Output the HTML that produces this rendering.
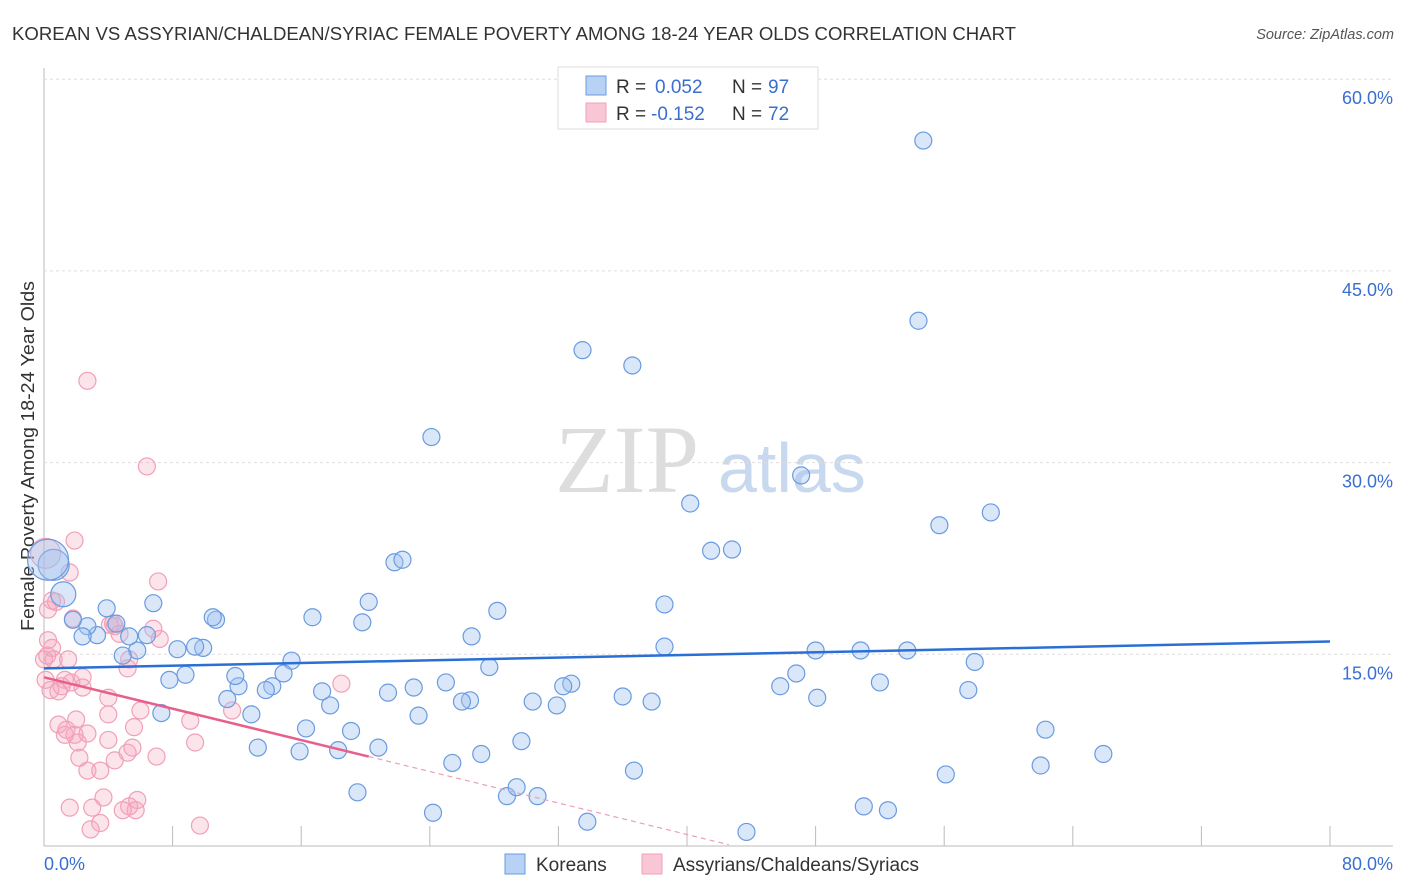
<!DOCTYPE html>
<html><head><meta charset="utf-8"><style>
body{margin:0;background:#fff;font-family:"Liberation Sans",sans-serif;}
svg{display:block}
</style></head><body>
<svg id="chart" width="1406" height="892">
<text x="12" y="40" font-size="18" fill="#333" textLength="1004" lengthAdjust="spacingAndGlyphs">KOREAN VS ASSYRIAN/CHALDEAN/SYRIAC FEMALE POVERTY AMONG 18-24 YEAR OLDS CORRELATION CHART</text>
<text x="1394" y="39" font-size="14.5" fill="#555" font-style="italic" text-anchor="end">Source: ZipAtlas.com</text>
<text x="0" y="0" font-size="18" fill="#333" textLength="350" lengthAdjust="spacingAndGlyphs" transform="translate(34 631) rotate(-90)">Female Poverty Among 18-24 Year Olds</text>
<g><text x="555" y="492" font-size="96" font-family="Liberation Serif,serif" fill="#ddd">ZIP</text><text x="718" y="492" font-size="70" fill="#c8d8ee">atlas</text></g>
<g id="grid"></g><g id="marks"></g><g id="trend"></g>
<g>
<rect x="558" y="67" width="260" height="62" fill="#fff" stroke="#ddd"/>
<rect x="586" y="76" width="20" height="19" fill="#b8d2f5" stroke="#6a9be0"/>
<rect x="586" y="103" width="20" height="19" fill="#f9c6d6" stroke="#f0a0b8"/>
<text x="616" y="93" font-size="19" fill="#333">R =</text><text x="655" y="93" font-size="19" fill="#3a6fd0">0.052</text><text x="732" y="93" font-size="19" fill="#333">N =</text><text x="768" y="93" font-size="19" fill="#3a6fd0">97</text>
<text x="616" y="120" font-size="19" fill="#333">R =</text><text x="651" y="120" font-size="19" fill="#3a6fd0">-0.152</text><text x="732" y="120" font-size="19" fill="#333">N =</text><text x="768" y="120" font-size="19" fill="#3a6fd0">72</text>
</g>
<g>
<rect x="505" y="854" width="20" height="20" fill="#b8d2f5" stroke="#6a9be0"/>
<text x="536" y="871" font-size="19" fill="#333">Koreans</text>
<rect x="642" y="854" width="20" height="20" fill="#f9c6d6" stroke="#f0a0b8"/>
<text x="673" y="871" font-size="19" fill="#333">Assyrians/Chaldeans/Syriacs</text>
</g>
</svg>
<script>
const blueX=[54.7,54.4,33.5,36.6,24.1,47.1,40.2,55.7,58.9,41.5,42.8,21.8,22.3,38.6,28.2,20.2,16.7,19.8,26.6,38.6,48.0,50.8,53.7,57.9,46.8,52.0,45.8,57.5,48.1,62.3,65.9,62.0,56.1,51.0,52.5,43.7,36.0,37.8,32.8,32.3,30.4,31.9,27.7,26.5,26.0,25.0,23.3,23.0,21.4,20.8,19.1,18.3,19.5,17.8,17.3,16.3,15.9,15.4,14.9,14.2,13.8,13.3,12.9,12.1,11.9,11.4,9.9,9.4,8.8,8.3,7.8,7.3,6.8,6.4,5.8,5.3,4.9,4.5,3.9,3.3,2.7,2.4,1.8,10.7,10.5,24.2,28.8,29.4,30.7,33.8,36.7,25.4,27.2,29.7,1.2,0.6,0.25];
const blueY=[55.2,41.1,38.8,37.6,32.0,29.0,26.8,25.1,26.1,23.1,23.2,22.2,22.4,18.9,18.4,19.1,17.9,17.5,16.4,15.6,15.3,15.3,15.3,14.4,13.5,12.8,12.5,12.2,11.6,9.1,7.2,6.3,5.6,3.1,2.8,1.1,11.7,11.3,12.7,12.5,11.3,11.0,14.0,11.4,11.3,12.8,10.2,12.4,12.0,7.7,9.0,7.5,4.2,11.0,12.1,9.2,7.4,14.5,13.5,12.5,12.2,7.7,10.3,12.5,13.3,11.5,15.5,15.6,13.4,15.4,13.0,10.4,19.0,16.5,15.3,16.4,14.9,17.4,18.6,16.5,17.2,16.4,17.7,17.7,17.9,2.6,3.9,4.6,3.9,1.9,5.9,6.5,7.2,8.2,19.7,22.0,22.4];
const blueR=[8,8,8,8,8,8,8,8,8,8,8,8,8,8,8,8,8,8,8,8,8,8,8,8,8,8,8,8,8,8,8,8,8,8,8,8,8,8,8,8,8,8,8,8,8,8,8,8,8,8,8,8,8,8,8,8,8,8,8,8,8,8,8,8,8,8,8,8,8,8,8,8,8,8,8,8,8,8,8,8,8,8,8,8,8,8,8,8,8,8,8,8,8,8,12,15,20];
const pinkX=[1.9,7.1,1.6,2.7,6.4,0.25,0.5,1.8,4.4,4.7,4.1,6.8,0.5,0.6,1.5,0.1,0.4,1.3,1.7,2.4,0.9,1.1,2.4,4.0,5.2,6.0,4.0,0.9,1.4,1.9,2.0,2.7,2.1,4.0,9.1,9.4,5.6,5.2,5.5,4.4,2.2,2.7,3.5,7.0,5.3,5.7,5.8,4.9,1.6,3.0,3.7,2.9,3.5,9.7,11.7,18.5,5.3,7.2,0,0.25,0.2,0.75,1.3,4.3,0.1];
const pinkY=[23.9,20.7,21.4,36.4,29.7,18.5,19.2,17.8,17.2,16.6,17.3,17.0,15.5,14.6,14.6,13.0,12.2,13.0,12.8,12.4,12.1,12.5,13.2,11.6,13.9,10.6,10.3,9.5,9.1,8.7,9.9,8.8,8.1,8.3,9.8,8.1,9.3,7.3,7.7,6.7,6.9,5.9,5.9,7.0,3.1,2.8,3.6,2.8,3.0,3.0,3.8,1.3,1.8,1.6,10.6,12.7,14.6,16.2,14.6,16.1,14.9,19.1,8.7,17.4,22.9];
const yTicks=[15,30,45,60];
const yTickLabels=["15.0%","30.0%","45.0%","60.0%"];
const xTicks=[0,8,16,24,32,40,48,56,64,72,80];
const blueTrend=[[0,13.9],[80,16.0]];
const pinkTrendSolid=[[0,13.2],[20.2,7.0]];
const pinkTrendDash=[[20.2,7.0],[42.6,0.1]];

const NS="http://www.w3.org/2000/svg";
const X=v=>44+v*(1286/80);
const Y=v=>846-v*(191.7/15);
function mk(t,a,p){const e=document.createElementNS(NS,t);for(const k in a)e.setAttribute(k,a[k]);p.appendChild(e);return e;}
const grid=document.getElementById('grid'),marks=document.getElementById('marks'),trend=document.getElementById('trend');
let ax=mk('line',{x1:44,y1:68,x2:44,y2:846,stroke:'#bbb'},grid);


let bx=mk('line',{x1:44,y1:846,x2:1393,y2:846,stroke:'#bbb'},grid);


yTicks.forEach((v,i)=>{
 const g=mk('line',{x1:44,x2:1393,y1:Y(v),y2:Y(v),stroke:'#ddd','stroke-dasharray':'3,3'},grid);
 
 
 const t=mk('text',{x:1393,y:Y(v)+25,'font-size':18,fill:'#3a6fd0','text-anchor':'end'},grid);
 t.textContent=yTickLabels[i];
 
 
});
xTicks.forEach(v=>{
 const l=mk('line',{x1:X(v),x2:X(v),y1:826,y2:846,stroke:'#bbb'},grid);
 
 
});
[[0,"0.0%",'start',44],[80,"80.0%",'end',1393]].forEach(a=>{
 const t=mk('text',{x:a[3],y:870,'font-size':18,fill:'#3a6fd0','text-anchor':a[2]},grid);
 t.textContent=a[1];
 
 
});
pinkX.forEach((v,i)=>{
 const c=mk('circle',{cx:X(v),cy:Y(pinkY[i]),r:i==pinkX.length-1?15:8.5,fill:'rgba(245,165,190,0.3)',stroke:'#f0a0b8','stroke-width':1.2},marks);
 
 
});
blueX.forEach((v,i)=>{
 const c=mk('circle',{cx:X(v),cy:Y(blueY[i]),r:blueR[i]+0.5,fill:'rgba(160,195,240,0.4)',stroke:'#6a9be0','stroke-width':1.2},marks);
 
 
});
function ln(p,st,w,d,name){const l=mk('line',{x1:X(p[0][0]),y1:Y(p[0][1]),x2:X(p[1][0]),y2:Y(p[1][1]),stroke:st,'stroke-width':w},trend);if(d)l.setAttribute('stroke-dasharray',d);
 
 }
ln(blueTrend,'#2a6fd6',2.5,null,'korean-trendline');
ln(pinkTrendSolid,'#e8608a',2.5,null,'assyrian-trendline');
ln(pinkTrendDash,'#e8a0b8',1.2,'5,4','assyrian-trendline-extension');
</script>
</body></html>
